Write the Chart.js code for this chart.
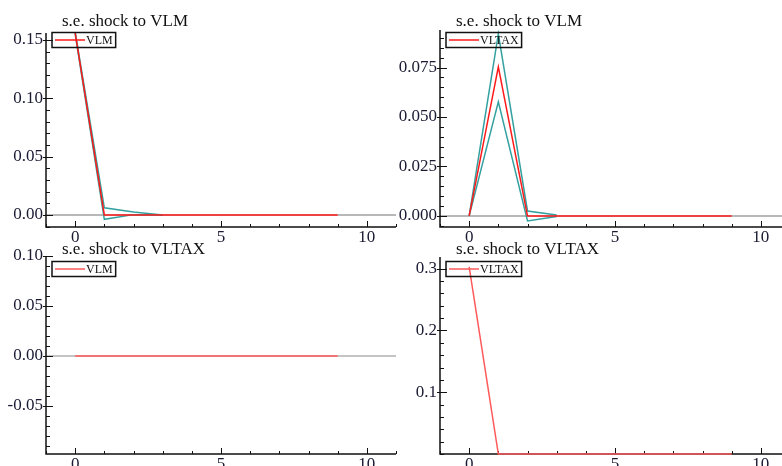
<!DOCTYPE html>
<html>
<head>
<meta charset="utf-8">
<script src="https://cdn.jsdelivr.net/npm/chart.js@4.4.1/dist/chart.umd.min.js"></script>
<style>
  body { margin: 0; background: #fff; width: 782px; height: 466px; overflow: hidden; position: relative; }
  canvas { position: absolute; }
</style>
</head>
<body>
<canvas id="p1" width="400" height="243" style="left:0;top:0"></canvas>
<canvas id="p2" width="400" height="243" style="left:394px;top:0"></canvas>
<canvas id="p3" width="400" height="243" style="left:0;top:230px"></canvas>
<canvas id="p4" width="400" height="243" style="left:394px;top:230px"></canvas>
<script>
// horizons of the impulse responses
const horizon = [0, 1, 2, 3, 4, 5, 6, 7, 8, 9];
const bandHorizon = [0, 1, 2, 3];

// s.e. shock to VLM -> VLM
const vlmOnVlm = [0.156, 0, 0, 0, 0, 0, 0, 0, 0, 0];
const vlmOnVlmUpper = [0.157, 0.0062, 0.0025, 0];
const vlmOnVlmLower = [0.155, -0.0037, 0.0003, 0];

// s.e. shock to VLM -> VLTAX
const vltaxOnVlm = [0, 0.0754, 0, 0, 0, 0, 0, 0, 0, 0];
const vltaxOnVlmUpper = [0, 0.092, 0.0025, 0.0005];
const vltaxOnVlmLower = [0, 0.0577, -0.0025, -0.0003];

// s.e. shock to VLTAX -> VLM
const vlmOnVltax = [0, 0, 0, 0, 0, 0, 0, 0, 0, 0];

// s.e. shock to VLTAX -> VLTAX
const vltaxOnVltax = [0.303, 0, 0, 0, 0, 0, 0, 0, 0, 0];

// tick labels
const xTicks = [0, 5, 10];
const yTicks1 = [0, 0.05, 0.10, 0.15];
const yTicks2 = [0, 0.025, 0.050, 0.075];
const yTicks3 = [-0.05, 0, 0.05, 0.10];
const yTicks4 = [0.1, 0.2, 0.3];

const RED = '#ff1a1a';
const RED_LIGHT = '#ff5a5a';
const TEAL = '#34a0a0';
const SERIF = "'Liberation Serif', 'DejaVu Serif', serif";

Chart.defaults.font.family = SERIF;
Chart.defaults.font.size = 17;
Chart.defaults.color = '#1a1a33';

const pts = (xs, ys) => xs.map((x, i) => ({ x: x, y: ys[i] }));

// axes with inward ticks and zero line under the data, title and boxed legend on top
const framePlugin = {
    id: 'frame',
    beforeDatasetsDraw(chart, args, o) {
        const { ctx, chartArea: a, scales: { x, y } } = chart;
        ctx.save();
        if (o.zeroLine) {
            const py = y.getPixelForValue(0);
            ctx.strokeStyle = o.zeroColor;
            ctx.lineWidth = 1.5;
            ctx.beginPath();
            ctx.moveTo(a.left, py);
            ctx.lineTo(a.right, py);
            ctx.stroke();
        }

        ctx.strokeStyle = '#111';
        ctx.lineWidth = 1.5;
        ctx.beginPath();
        ctx.moveTo(a.left, a.top);
        ctx.lineTo(a.left, a.bottom);
        ctx.lineTo(a.right, a.bottom);
        ctx.stroke();

        ctx.lineWidth = 1;
        ctx.beginPath();
        const majors = y.ticks.map(t => t.value);
        const k0 = Math.ceil(y.min / o.yMinor - 1e-9), k1 = Math.floor(y.max / o.yMinor + 1e-9);
        for (let k = k0; k <= k1; k++) {
            const v = k * o.yMinor;
            const py = Math.round(y.getPixelForValue(v)) + 0.5;
            const major = majors.some(m => Math.abs(m - v) < 1e-9);
            ctx.moveTo(a.left - (major ? 3 : 0), py);
            ctx.lineTo(a.left + (major ? 7 : 4), py);
        }
        for (let k = Math.ceil(x.min); k <= Math.floor(x.max); k++) {
            const px = Math.round(x.getPixelForValue(k)) + 0.5;
            ctx.moveTo(px, a.bottom);
            ctx.lineTo(px, a.bottom - (k % 5 === 0 ? 6 : 3));
        }
        ctx.stroke();
        ctx.restore();
    },
    afterDraw(chart, args, o) {
        const { ctx, chartArea: a } = chart;
        ctx.save();
        ctx.fillStyle = '#111';
        ctx.font = '17px ' + SERIF;
        ctx.textBaseline = 'alphabetic';
        ctx.fillText(o.title, a.left + 16, o.titleY);

        const ds = chart.data.datasets[0];
        ctx.font = '12px ' + SERIF;
        const tw = ctx.measureText(ds.label).width;
        const bx = a.left + 6, by = o.legendY, bh = 15, bw = 37 + tw;
        ctx.lineWidth = 1.5;
        ctx.strokeStyle = '#111';
        ctx.strokeRect(bx, by, bw, bh);
        ctx.strokeStyle = ds.borderColor;
        ctx.beginPath();
        ctx.moveTo(bx + 3, by + bh / 2);
        ctx.lineTo(bx + 33, by + bh / 2);
        ctx.stroke();
        ctx.textBaseline = 'middle';
        ctx.fillText(ds.label, bx + 34, by + bh / 2 + 1);
        ctx.restore();
    }
};

function makePanel(id, cfg) {
    const datasets = [{
        label: cfg.label,
        data: pts(horizon, cfg.resp),
        borderColor: cfg.red,
        borderWidth: 1.5,
        clip: { left: 0, top: 0, right: 0, bottom: 2 }
    }];
    (cfg.bands || []).forEach(b => datasets.push({
        label: 'band',
        data: pts(bandHorizon, b),
        borderColor: TEAL,
        borderWidth: 1.5
    }));

    return new Chart(document.getElementById(id), {
        type: 'line',
        data: { datasets: datasets },
        plugins: [framePlugin],
        options: {
            responsive: false,
            animation: false,
            elements: { point: { radius: 0 }, line: { tension: 0 } },
            layout: { padding: { top: cfg.top, right: 4, left: 0, bottom: 0 } },
            plugins: {
                legend: { display: false },
                tooltip: { enabled: false },
                frame: {
                    title: cfg.title,
                    titleY: cfg.titleY,
                    legendY: cfg.legendY,
                    yMinor: cfg.yMinor,
                    zeroLine: cfg.zeroLine,
                    zeroColor: cfg.zeroColor
                }
            },
            scales: {
                x: {
                    type: 'linear',
                    min: -1,
                    max: 11,
                    grid: { display: false, drawTicks: false },
                    border: { display: false },
                    ticks: { padding: 0, maxRotation: 0, callback: v => String(v) },
                    afterBuildTicks: s => { s.ticks = xTicks.map(v => ({ value: v })); },
                    afterFit: s => { s.height = cfg.xHeight; }
                },
                y: {
                    type: 'linear',
                    min: cfg.yMin,
                    max: cfg.yMax,
                    grid: { display: false, drawTicks: false },
                    border: { display: false },
                    ticks: { padding: 3, callback: v => v.toFixed(cfg.decimals) },
                    afterBuildTicks: s => { s.ticks = cfg.yTicks.map(v => ({ value: v })); },
                    afterFit: s => { s.width = 46; }
                }
            }
        }
    });
}

makePanel('p1', {
    label: 'VLM', title: 's.e. shock to VLM', resp: vlmOnVlm,
    bands: [vlmOnVlmUpper, vlmOnVlmLower], red: RED,
    yMin: -0.0103, yMax: 0.156, yTicks: yTicks1, decimals: 2, yMinor: 0.01,
    top: 33, xHeight: 16, titleY: 26, legendY: 32.5,
    zeroLine: true, zeroColor: '#a0a0a0'
});

makePanel('p2', {
    label: 'VLTAX', title: 's.e. shock to VLM', resp: vltaxOnVlm,
    bands: [vltaxOnVlmUpper, vltaxOnVlmLower], red: RED,
    yMin: -0.0056, yMax: 0.094, yTicks: yTicks2, decimals: 3, yMinor: 0.005,
    top: 30, xHeight: 16, titleY: 26, legendY: 32.5,
    zeroLine: true, zeroColor: '#a0a0a0'
});

makePanel('p3', {
    label: 'VLM', title: 's.e. shock to VLTAX', resp: vlmOnVltax,
    red: RED_LIGHT,
    yMin: -0.098, yMax: 0.1, yTicks: yTicks3, decimals: 2, yMinor: 0.01,
    top: 26, xHeight: 19, titleY: 24, legendY: 31.5,
    zeroLine: true, zeroColor: '#b0b0b0'
});

makePanel('p4', {
    label: 'VLTAX', title: 's.e. shock to VLTAX', resp: vltaxOnVltax,
    red: RED_LIGHT,
    yMin: 0, yMax: 0.319, yTicks: yTicks4, decimals: 1, yMinor: 0.02,
    top: 27, xHeight: 19, titleY: 24, legendY: 31.5,
    zeroLine: false
});
</script>
</body>
</html>
